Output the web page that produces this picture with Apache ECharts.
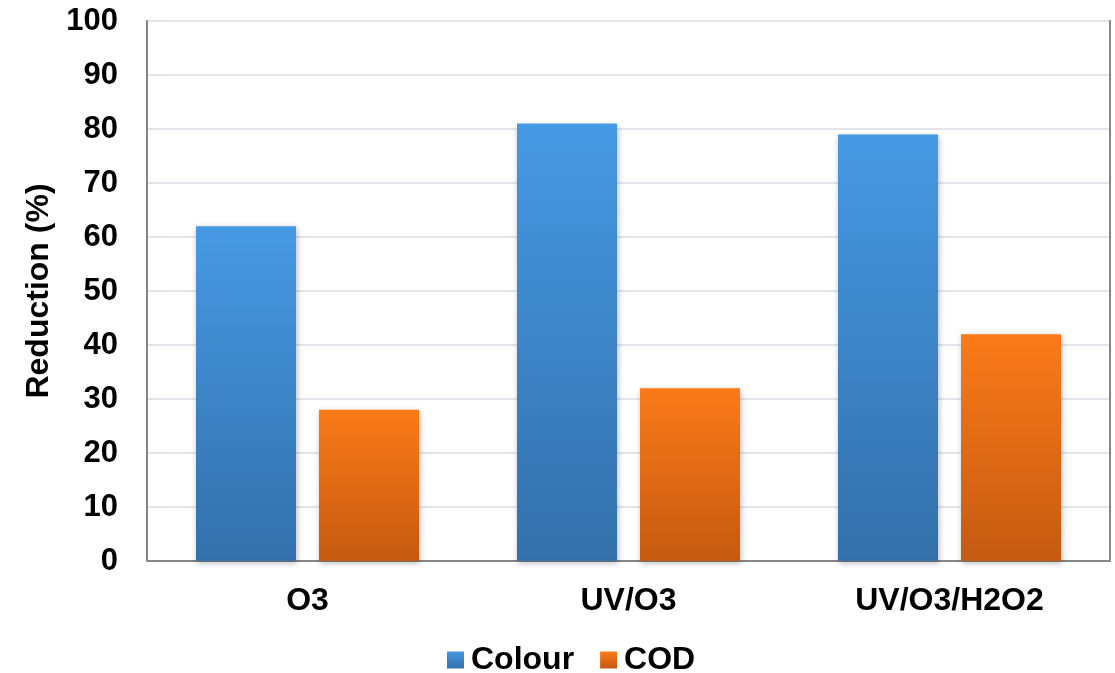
<!DOCTYPE html>
<html>
<head>
<meta charset="utf-8">
<script src="https://cdn.jsdelivr.net/npm/echarts@6/dist/echarts.min.js"></script>
<style>
  html, body { margin: 0; padding: 0; background: #fff; }
  #chart { width: 1115px; height: 673px; }
</style>
</head>
<body>
<div id="chart"></div>
<script>
// Treatment processes and their reduction percentages
const categories = ['O3', 'UV/O3', 'UV/O3/H2O2'];
const colourValues = [62, 81, 79];
const codValues = [28, 32, 42];
const yTicks = { min: 0, max: 100, interval: 10 };

const FONT = '"Liberation Sans", Arial, sans-serif';

function vGrad(top, bottom) {
  return new echarts.graphic.LinearGradient(0, 0, 0, 1, [
    { offset: 0, color: top },
    { offset: 1, color: bottom }
  ]);
}

const blueFill = vGrad('#4699e3', '#3370ab');
const orangeFill = vGrad('#fb7a18', '#c55a11');

const barShadow = {
  shadowBlur: 6,
  shadowColor: 'rgba(0,0,0,0.28)',
  shadowOffsetX: 1,
  shadowOffsetY: 2
};

const chart = echarts.init(document.getElementById('chart'), null, { renderer: 'canvas' });

chart.setOption({
  animation: false,
  backgroundColor: '#ffffff',
  textStyle: { fontFamily: FONT },
  grid: { left: 147, right: 5, top: 21, bottom: 112, containLabel: false },
  legend: {
    left: 442,
    top: 639,
    itemWidth: 17,
    itemHeight: 17,
    itemGap: 26,
    icon: 'rect',
    textStyle: { fontFamily: FONT, fontWeight: 'bold', fontSize: 32, color: '#000', padding: [0, 0, 0, 2] },
    data: ['Colour', 'COD']
  },
  xAxis: [
    {
      type: 'category',
      data: categories,
      position: 'bottom',
      axisLine: { show: true, lineStyle: { color: '#d6d9de', width: 2 } },
      axisTick: { show: false },
      axisLabel: { fontFamily: FONT, fontWeight: 'bold', fontSize: 32, color: '#000', margin: 24 },
      splitLine: { show: false }
    },
    {
      type: 'category',
      data: categories,
      position: 'top',
      axisLine: { show: true, lineStyle: { color: '#868686', width: 2 } },
      axisTick: { show: false },
      axisLabel: { show: false },
      splitLine: { show: false }
    }
  ],
  yAxis: [
    {
      type: 'value',
      min: yTicks.min,
      max: yTicks.max,
      interval: yTicks.interval,
      position: 'left',
      name: 'Reduction (%)',
      nameLocation: 'middle',
      nameGap: 92,
      nameTextStyle: { fontFamily: FONT, fontWeight: 'bold', fontSize: 32, color: '#000' },
      axisLine: { show: true, lineStyle: { color: '#868686', width: 2 } },
      axisTick: { show: false },
      axisLabel: { fontFamily: FONT, fontWeight: 'bold', fontSize: 31, color: '#000', margin: 29 },
      splitLine: { show: true, lineStyle: { color: '#e2e5ea', width: 2 } }
    },
    {
      type: 'value',
      min: yTicks.min,
      max: yTicks.max,
      interval: yTicks.interval,
      position: 'right',
      axisLine: { show: true, lineStyle: { color: '#868686', width: 2 } },
      axisTick: { show: false },
      axisLabel: { show: false },
      splitLine: { show: false }
    }
  ],
  series: [
    {
      name: 'Colour',
      type: 'bar',
      data: colourValues,
      barWidth: 100,
      barGap: '23%',
      itemStyle: Object.assign({ color: blueFill }, barShadow)
    },
    {
      name: 'COD',
      type: 'bar',
      data: codValues,
      barWidth: 100,
      barGap: '23%',
      itemStyle: Object.assign({ color: orangeFill }, barShadow)
    }
  ]
});
</script>
</body>
</html>
